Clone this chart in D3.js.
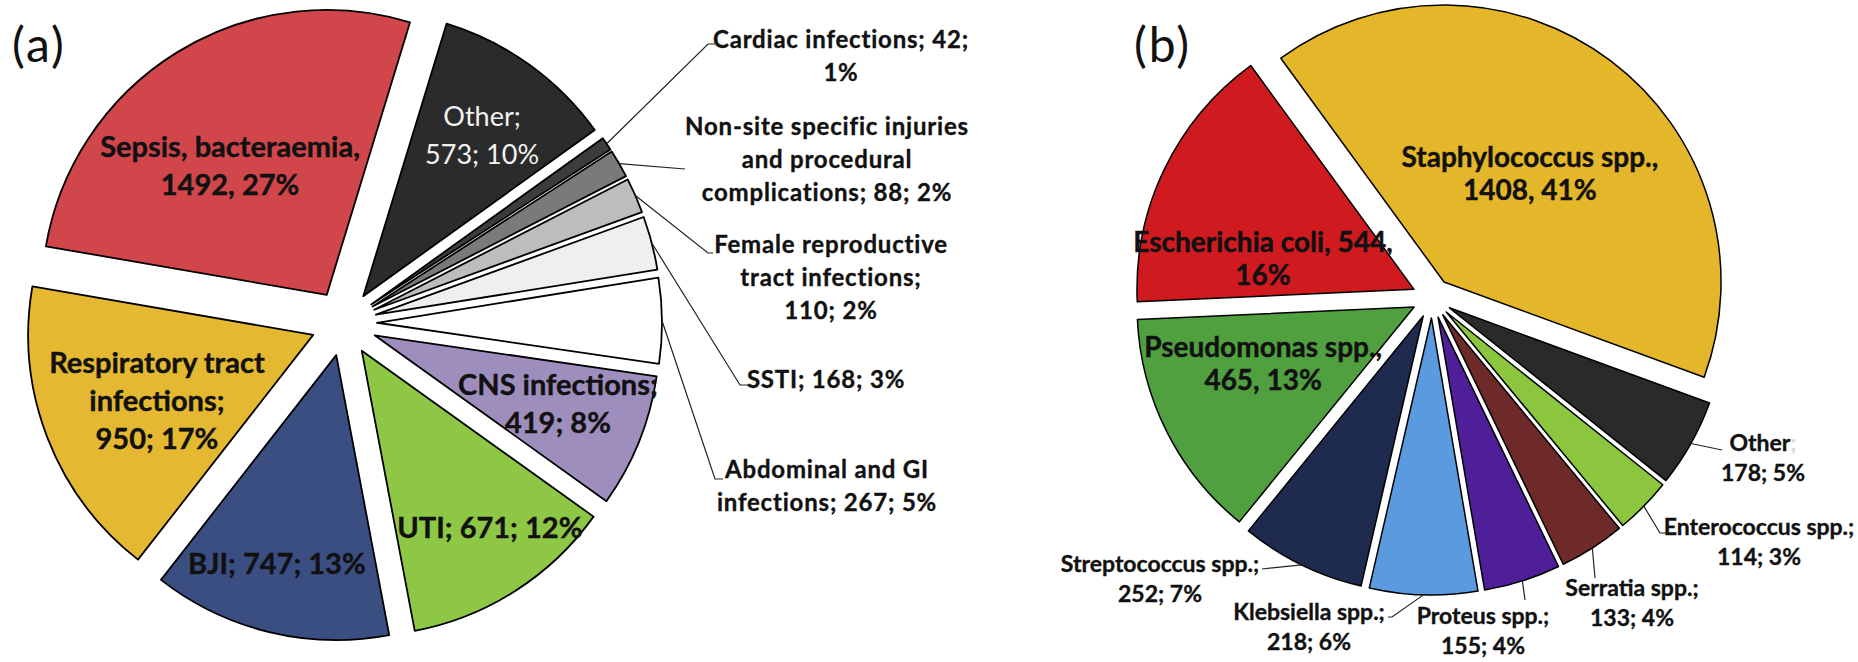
<!DOCTYPE html>
<html>
<head>
<meta charset="utf-8">
<script src="https://cdn.jsdelivr.net/npm/d3@7"></script>
<style>
  html, body { margin: 0; padding: 0; background: #fff; }
  svg { display: block; }
  text { font-family: Lato, "Open Sans", sans-serif; }
</style>
</head>
<body>
<svg id="chart" width="1858" height="662"></svg>
<script>
// (a) infection sites, listed counter-clockwise from the top
const siteCounts = [1492, 950, 747, 671, 419, 267, 168, 110, 88, 42, 573]
const siteLabels = [
  ['Sepsis, bacteraemia,', '1492, 27%'],
  ['Respiratory tract', 'infections;', '950; 17%'],
  ['BJI; 747; 13%'],
  ['UTI; 671; 12%'],
  ['CNS infections;', '419; 8%'],
  ['Abdominal and GI', 'infections; 267; 5%'],
  ['SSTI; 168; 3%'],
  ['Female reproductive', 'tract infections;', '110; 2%'],
  ['Non-site specific injuries', 'and procedural', 'complications; 88; 2%'],
  ['Cardiac infections; 42;', '1%'],
  ['Other;', '573; 10%']
]

// (b) organisms, same direction
const bugCounts = [1408, 544, 465, 252, 218, 155, 133, 114, 178]
const bugLabels = [
  ['Staphylococcus spp.,', '1408, 41%'],
  ['Escherichia coli, 544,', '16%'],
  ['Pseudomonas spp.,', '465, 13%'],
  ['Streptococcus spp.;', '252; 7%'],
  ['Klebsiella spp.;', '218; 6%'],
  ['Proteus spp.;', '155; 4%'],
  ['Serratia spp.;', '133; 4%'],
  ['Enterococcus spp.;', '114; 3%'],
  ['Other;', '178; 5%']
]

const siteColors = ['#d0464a', '#e4b830', '#3a4e82', '#8ec646', '#9e8ebe', '#ffffff',
                    '#efefef', '#bdbdbd', '#7a7a7a', '#3c3c3c', '#2b2b2b']
const bugColors = ['#e4b62a', '#cf1a20', '#50a040', '#1f2a4f', '#5a9be0', '#4f1f9a',
                   '#6e2a28', '#8cc63e', '#2a2a2a']

// label placement: inside ones as radius fraction + angle offset (deg),
// outside ones as text spot + bend points of the leader line
const siteSpots = [
  {r: 0.565, da: -5.3},
  {r: 0.595, da: -1.7},
  {r: 0.76, da: 2.3},
  {r: 0.767, da: -3.3},
  {r: 0.687, da: -1.4},
  {x: 827, y: 470, lead: [[715, 479], [723, 479]]},
  {x: 826, y: 380, lead: [[740, 385], [750, 385]]},
  {x: 831, y: 245, lead: [[708, 253], [713, 253]]},
  {x: 827, y: 127, lead: [[685, 169]]},
  {x: 841, y: 40, lead: [[708, 44], [715, 44]]},
  {r: 0.70, da: 0.9, light: true}
]
const bugSpots = [
  {r: 0.498, da: 1.5},
  {r: 0.556, da: -14.1},
  {r: 0.582, da: 6.2},
  {x: 1160, y: 564, lead: [[1262, 569]]},
  {x: 1309, y: 612, lead: [[1392, 617], [1388, 617]]},
  {x: 1483, y: 616, lead: [[1525, 600]]},
  {x: 1632, y: 588, lead: [[1595, 578]]},
  {x: 1759, y: 527, lead: [[1660, 533], [1667, 533]]},
  {x: 1763, y: 443, lead: [[1722, 450]], faintSemi: true}
]

const svg = d3.select('#chart')
const rad = d => d * Math.PI / 180
const line = d3.line()

function drawPie(o) {
  const pie = d3.pie().sort(null).value(d => d)
    .startAngle(rad(o.start)).endAngle(rad(o.start) - 2 * Math.PI)
  const arcs = pie(o.values)
  const arc = d3.arc().innerRadius(0).outerRadius(o.r)
  const mid = d => (d.startAngle + d.endAngle) / 2
  // exploded centre of each slice
  const base = d => [o.cx + o.explode * Math.sin(mid(d)), o.cy - o.explode * Math.cos(mid(d))]

  svg.append('g').selectAll('path')
    .data(arcs)
    .join('path')
    .attr('d', arc)
    .attr('transform', d => `translate(${base(d)})`)
    .attr('fill', (d, i) => o.colors[i])
    .attr('stroke', '#000')
    .attr('stroke-width', o.stroke)
    .attr('stroke-linejoin', 'round')

  const lg = svg.append('g')
  arcs.forEach((d, i) => {
    const s = o.spots[i]
    const lines = o.labels[i]
    const b = base(d)
    if (s.lead) {
      const a = mid(d)
      const p0 = [b[0] + o.r * Math.sin(a), b[1] - o.r * Math.cos(a)]
      lg.append('path')
        .attr('d', line([p0, ...s.lead]))
        .attr('fill', 'none')
        .attr('stroke', '#222')
        .attr('stroke-width', 1.2)
      const t = lg.append('text')
        .attr('text-anchor', 'middle')
        .style('font-size', o.outSize + 'px')
        .style('font-weight', 700)
        .style('letter-spacing', o.outSpacing + 'px')
        .attr('fill', '#111')
        .attr('stroke', '#111')
        .attr('stroke-width', 0.35)
      lines.forEach((txt, k) => {
        const ts = t.append('tspan')
          .attr('x', s.x)
          .attr('y', s.y + k * o.outLine)
          .attr('dy', '0.35em')
        if (s.faintSemi && txt.endsWith(';')) {
          ts.text(txt.slice(0, -1))
          ts.append('tspan').attr('fill', '#d8d8e0').attr('stroke', 'none').text(';')
        } else {
          ts.text(txt)
        }
      })
    } else {
      const a = mid(d) + rad(s.da)
      const cx = b[0] + s.r * o.r * Math.sin(a)
      const cy = b[1] - s.r * o.r * Math.cos(a)
      const col = s.light ? '#f2f2f2' : '#111'
      const t = lg.append('text')
        .attr('text-anchor', 'middle')
        .style('font-size', (s.light ? o.inSize - 2 : o.inSize) + 'px')
        .style('font-weight', s.light ? 400 : 700)
        .attr('fill', col)
        .attr('stroke', s.light ? 'none' : col)
        .attr('stroke-width', 0.4)
      lines.forEach((txt, k) => {
        t.append('tspan')
          .attr('x', cx)
          .attr('y', cy + (k - (lines.length - 1) / 2) * o.inLine)
          .attr('dy', '0.35em')
          .text(txt)
      })
    }
  })
}

drawPie({
  values: siteCounts, labels: siteLabels, colors: siteColors, spots: siteSpots,
  cx: 344, cy: 323, r: 285, explode: 33, start: 17, stroke: 1.8,
  inSize: 29, inLine: 38, outSize: 24, outLine: 33, outSpacing: 0.8
})

drawPie({
  values: bugCounts, labels: bugLabels, colors: bugColors, spots: bugSpots,
  cx: 1432, cy: 298, r: 277, explode: 20, start: 110.1, stroke: 1.5,
  inSize: 28, inLine: 33, outSize: 23, outLine: 30, outSpacing: 0
})

// panel letters
svg.append('text').attr('x', 12).attr('y', 62)
  .style('font-size', '48px').style('letter-spacing', '2px').attr('fill', '#111')
  .text('(a)')
svg.append('text').attr('x', 1134).attr('y', 62)
  .style('font-size', '48px').style('letter-spacing', '2px').attr('fill', '#111')
  .text('(b)')
</script>
</body>
</html>
